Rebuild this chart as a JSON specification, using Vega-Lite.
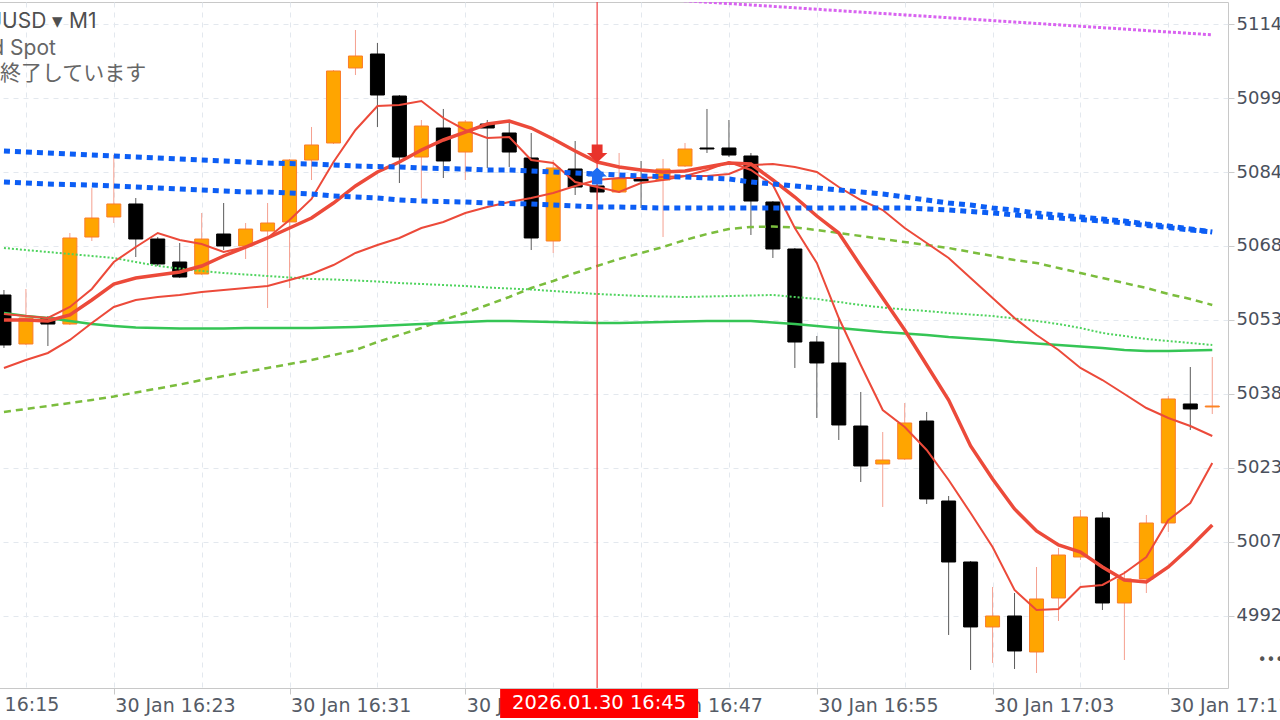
{
  "$schema": "https://vega.github.io/schema/vega-lite/v6.json",
  "width": 1230,
  "height": 686,
  "autosize": {"type": "none"},
  "padding": {"left": -2, "top": 2, "right": 52, "bottom": 32},
  "background": "white",
  "title": {
    "text": "XAUUSD ▾ M1",
    "subtitle": ["Gold Spot", "取引終了しています"],
    "anchor": "start", "frame": "group", "orient": "top", "baseline": "top",
    "offset": 0, "dx": -40, "dy": 83,
    "font": "Inter", "fontSize": 21, "fontWeight": 400, "color": "#4f4f4f",
    "subtitleFont": "Inter, Noto Sans CJK JP", "subtitleFontSize": 21, "subtitleColor": "#666666",
    "subtitlePadding": 6, "subtitleLineHeight": 25
  },
  "data": {"values": [
    {"t":"2026-01-30T16:18","o":5058.75,"h":5059.78,"l":5047.83,"c":5048.45,"f":5054.83,"m":5053.60,"s":5043.71,"bu":5088.43,"bl":5082.04,"g":5055.04,"gd":5068.44,"gk":5034.64},
    {"t":"2026-01-30T16:19","o":5048.65,"h":5059.99,"l":5048.45,"c":5054.01,"f":5054.42,"m":5053.60,"s":5045.35,"bu":5088.22,"bl":5081.83,"g":5054.42,"gd":5068.02,"gk":5035.26},
    {"t":"2026-01-30T16:20","o":5054.01,"h":5054.42,"l":5048.24,"c":5052.77,"f":5054.01,"m":5053.39,"s":5046.80,"bu":5088.02,"bl":5081.63,"g":5054.01,"gd":5067.61,"gk":5035.87},
    {"t":"2026-01-30T16:21","o":5052.77,"h":5071.53,"l":5052.57,"c":5070.50,"f":5056.28,"m":5054.63,"s":5049.48,"bu":5087.81,"bl":5081.52,"g":5053.39,"gd":5067.20,"gk":5036.49},
    {"t":"2026-01-30T16:22","o":5070.70,"h":5080.80,"l":5069.88,"c":5074.62,"f":5059.99,"m":5057.72,"s":5052.98,"bu":5087.60,"bl":5081.42,"g":5052.77,"gd":5066.79,"gk":5037.11},
    {"t":"2026-01-30T16:23","o":5074.83,"h":5087.60,"l":5073.59,"c":5077.51,"f":5065.55,"m":5061.02,"s":5056.28,"bu":5087.40,"bl":5081.22,"g":5052.36,"gd":5066.38,"gk":5037.83},
    {"t":"2026-01-30T16:24","o":5077.51,"h":5078.74,"l":5066.58,"c":5070.29,"f":5068.64,"m":5062.25,"s":5057.72,"bu":5087.19,"bl":5081.01,"g":5052.05,"gd":5065.55,"gk":5038.66},
    {"t":"2026-01-30T16:25","o":5070.29,"h":5070.70,"l":5064.73,"c":5065.14,"f":5071.53,"m":5062.87,"s":5058.34,"bu":5086.99,"bl":5080.80,"g":5051.95,"gd":5064.73,"gk":5039.48},
    {"t":"2026-01-30T16:26","o":5065.55,"h":5069.47,"l":5062.25,"c":5062.46,"f":5070.09,"m":5063.49,"s":5058.75,"bu":5086.78,"bl":5080.60,"g":5051.85,"gd":5064.21,"gk":5040.30},
    {"t":"2026-01-30T16:27","o":5063.08,"h":5075.65,"l":5062.87,"c":5070.29,"f":5069.26,"m":5064.73,"s":5059.37,"bu":5086.57,"bl":5080.39,"g":5051.85,"gd":5063.70,"gk":5041.23},
    {"t":"2026-01-30T16:28","o":5071.32,"h":5077.71,"l":5068.02,"c":5068.85,"f":5067.61,"m":5066.79,"s":5059.78,"bu":5086.37,"bl":5080.19,"g":5051.85,"gd":5063.28,"gk":5042.06},
    {"t":"2026-01-30T16:29","o":5068.85,"h":5073.59,"l":5066.17,"c":5072.35,"f":5068.64,"m":5068.64,"s":5060.19,"bu":5086.16,"bl":5079.98,"g":5051.95,"gd":5062.97,"gk":5042.88},
    {"t":"2026-01-30T16:30","o":5071.94,"h":5077.71,"l":5056.07,"c":5073.59,"f":5070.50,"m":5070.50,"s":5060.61,"bu":5085.96,"bl":5079.98,"g":5051.95,"gd":5062.67,"gk":5043.71},
    {"t":"2026-01-30T16:31","o":5073.80,"h":5086.78,"l":5060.19,"c":5086.57,"f":5074.21,"m":5072.56,"s":5061.84,"bu":5085.85,"bl":5079.77,"g":5051.95,"gd":5062.36,"gk":5044.53},
    {"t":"2026-01-30T16:32","o":5086.57,"h":5093.38,"l":5082.45,"c":5089.67,"f":5078.54,"m":5074.62,"s":5063.08,"bu":5085.75,"bl":5079.57,"g":5051.95,"gd":5062.05,"gk":5045.35},
    {"t":"2026-01-30T16:33","o":5090.08,"h":5105.12,"l":5089.87,"c":5104.92,"f":5086.16,"m":5077.71,"s":5064.93,"bu":5085.54,"bl":5079.15,"g":5052.05,"gd":5061.95,"gk":5046.38},
    {"t":"2026-01-30T16:34","o":5105.54,"h":5113.37,"l":5104.09,"c":5108.01,"f":5092.76,"m":5081.22,"s":5067.41,"bu":5085.34,"bl":5078.95,"g":5052.16,"gd":5061.74,"gk":5047.41},
    {"t":"2026-01-30T16:35","o":5108.42,"h":5110.69,"l":5093.38,"c":5099.97,"f":5097.70,"m":5084.10,"s":5069.06,"bu":5085.23,"bl":5078.74,"g":5052.36,"gd":5061.53,"gk":5049.06},
    {"t":"2026-01-30T16:36","o":5099.76,"h":5099.97,"l":5081.83,"c":5087.19,"f":5097.91,"m":5086.16,"s":5070.50,"bu":5085.13,"bl":5078.33,"g":5052.57,"gd":5061.22,"gk":5050.51},
    {"t":"2026-01-30T16:37","o":5087.19,"h":5094.82,"l":5078.74,"c":5093.58,"f":5098.73,"m":5088.63,"s":5072.56,"bu":5084.93,"bl":5078.12,"g":5052.77,"gd":5061.02,"gk":5051.95},
    {"t":"2026-01-30T16:38","o":5093.17,"h":5097.09,"l":5082.86,"c":5086.37,"f":5095.23,"m":5090.70,"s":5073.80,"bu":5084.82,"bl":5078.02,"g":5052.98,"gd":5060.81,"gk":5053.60},
    {"t":"2026-01-30T16:39","o":5088.22,"h":5094.82,"l":5082.45,"c":5094.41,"f":5092.76,"m":5092.34,"s":5075.65,"bu":5084.72,"bl":5077.92,"g":5053.19,"gd":5060.61,"gk":5055.04},
    {"t":"2026-01-30T16:40","o":5093.99,"h":5094.82,"l":5084.93,"c":5093.17,"f":5091.11,"m":5093.99,"s":5076.89,"bu":5084.51,"bl":5077.71,"g":5053.39,"gd":5060.30,"gk":5056.69},
    {"t":"2026-01-30T16:41","o":5092.14,"h":5094.20,"l":5085.13,"c":5088.22,"f":5091.31,"m":5094.61,"s":5077.92,"bu":5084.51,"bl":5077.61,"g":5053.39,"gd":5060.09,"gk":5058.34},
    {"t":"2026-01-30T16:42","o":5086.99,"h":5092.14,"l":5068.02,"c":5070.50,"f":5086.57,"m":5093.17,"s":5078.74,"bu":5084.31,"bl":5077.51,"g":5053.29,"gd":5059.88,"gk":5060.19},
    {"t":"2026-01-30T16:43","o":5069.88,"h":5086.57,"l":5067.41,"c":5084.93,"f":5085.96,"m":5090.90,"s":5079.77,"bu":5084.10,"bl":5077.30,"g":5053.19,"gd":5059.57,"gk":5061.64},
    {"t":"2026-01-30T16:44","o":5084.72,"h":5090.49,"l":5079.36,"c":5081.01,"f":5082.04,"m":5088.43,"s":5081.22,"bu":5083.89,"bl":5077.09,"g":5053.09,"gd":5059.26,"gk":5063.28},
    {"t":"2026-01-30T16:45","o":5081.22,"h":5084.10,"l":5078.33,"c":5079.98,"f":5081.01,"m":5086.16,"s":5082.45,"bu":5083.69,"bl":5076.89,"g":5052.98,"gd":5058.96,"gk":5064.73},
    {"t":"2026-01-30T16:46","o":5079.98,"h":5088.02,"l":5079.77,"c":5082.66,"f":5079.98,"m":5085.13,"s":5082.86,"bu":5083.48,"bl":5076.89,"g":5052.98,"gd":5058.75,"gk":5066.17,"mg":5120.28},
    {"t":"2026-01-30T16:47","o":5082.66,"h":5086.37,"l":5076.68,"c":5082.25,"f":5081.83,"m":5084.51,"s":5082.86,"bu":5083.28,"bl":5076.79,"g":5053.09,"gd":5058.54,"gk":5067.41,"mg":5119.99},
    {"t":"2026-01-30T16:48","o":5082.45,"h":5086.78,"l":5070.70,"c":5084.72,"f":5082.45,"m":5084.10,"s":5083.07,"bu":5083.17,"bl":5076.68,"g":5053.19,"gd":5058.44,"gk":5068.64,"mg":5119.70},
    {"t":"2026-01-30T16:49","o":5085.34,"h":5090.08,"l":5085.13,"c":5088.84,"f":5083.28,"m":5084.31,"s":5083.28,"bu":5083.07,"bl":5076.68,"g":5053.29,"gd":5058.34,"gk":5070.09,"mg":5119.40},
    {"t":"2026-01-30T16:50","o":5089.05,"h":5097.09,"l":5088.02,"c":5088.84,"f":5084.51,"m":5085.13,"s":5083.28,"bu":5082.86,"bl":5076.68,"g":5053.39,"gd":5058.44,"gk":5071.32,"mg":5119.11},
    {"t":"2026-01-30T16:51","o":5089.05,"h":5094.82,"l":5087.19,"c":5087.60,"f":5086.16,"m":5085.96,"s":5083.69,"bu":5082.66,"bl":5076.68,"g":5053.39,"gd":5058.54,"gk":5072.35,"mg":5118.82},
    {"t":"2026-01-30T16:52","o":5087.40,"h":5088.02,"l":5071.12,"c":5078.12,"f":5084.51,"m":5085.75,"s":5085.54,"bu":5082.04,"bl":5076.68,"g":5053.39,"gd":5058.65,"gk":5072.77,"mg":5118.53},
    {"t":"2026-01-30T16:53","o":5077.92,"h":5078.12,"l":5066.38,"c":5068.23,"f":5081.42,"m":5082.45,"s":5085.75,"bu":5081.63,"bl":5076.68,"g":5053.09,"gd":5058.75,"gk":5072.87,"mg":5118.24},
    {"t":"2026-01-30T16:54","o":5068.23,"h":5068.44,"l":5043.71,"c":5049.06,"f":5072.56,"m":5078.95,"s":5085.13,"bu":5081.22,"bl":5076.68,"g":5052.77,"gd":5058.34,"gk":5072.66,"mg":5117.94},
    {"t":"2026-01-30T16:55","o":5049.06,"h":5050.30,"l":5033.40,"c":5044.74,"f":5065.35,"m":5075.03,"s":5084.10,"bu":5080.80,"bl":5076.68,"g":5052.36,"gd":5057.93,"gk":5072.15,"mg":5117.65},
    {"t":"2026-01-30T16:56","o":5044.74,"h":5053.80,"l":5028.87,"c":5031.96,"f":5054.01,"m":5071.53,"s":5081.01,"bu":5080.39,"bl":5076.68,"g":5051.95,"gd":5057.31,"gk":5071.53,"mg":5117.35},
    {"t":"2026-01-30T16:57","o":5031.75,"h":5038.76,"l":5020.21,"c":5023.51,"f":5044.32,"m":5064.73,"s":5078.33,"bu":5079.98,"bl":5076.68,"g":5051.54,"gd":5056.69,"gk":5070.91,"mg":5117.06},
    {"t":"2026-01-30T16:58","o":5023.92,"h":5030.51,"l":5015.06,"c":5024.74,"f":5035.05,"m":5058.13,"s":5076.27,"bu":5079.57,"bl":5076.68,"g":5051.12,"gd":5056.17,"gk":5070.29,"mg":5116.77},
    {"t":"2026-01-30T16:59","o":5024.95,"h":5036.49,"l":5024.74,"c":5032.37,"f":5031.55,"m":5051.54,"s":5072.56,"bu":5078.95,"bl":5076.68,"g":5050.81,"gd":5055.76,"gk":5069.67,"mg":5116.48},
    {"t":"2026-01-30T17:00","o":5032.78,"h":5034.64,"l":5015.68,"c":5016.71,"f":5026.80,"m":5044.32,"s":5069.47,"bu":5078.33,"bl":5076.48,"g":5050.51,"gd":5055.45,"gk":5069.06,"mg":5116.19},
    {"t":"2026-01-30T17:01","o":5016.29,"h":5017.32,"l":4988.68,"c":5003.72,"f":5020.62,"m":5037.11,"s":5066.38,"bu":5077.71,"bl":5076.27,"g":5050.09,"gd":5055.04,"gk":5068.44,"mg":5115.90},
    {"t":"2026-01-30T17:02","o":5003.72,"h":5003.92,"l":4981.46,"c":4990.33,"f":5013.82,"m":5027.63,"s":5062.25,"bu":5077.30,"bl":5075.96,"g":5049.78,"gd":5054.73,"gk":5067.61,"mg":5115.61},
    {"t":"2026-01-30T17:03","o":4990.33,"h":4998.57,"l":4982.91,"c":4992.59,"f":5006.81,"m":5020.83,"s":5058.13,"bu":5076.68,"bl":5075.65,"g":5049.48,"gd":5054.42,"gk":5066.79,"mg":5115.30},
    {"t":"2026-01-30T17:04","o":4992.59,"h":4997.33,"l":4981.67,"c":4985.38,"f":4997.95,"m":5014.65,"s":5054.01,"bu":5076.27,"bl":5075.24,"g":5049.06,"gd":5053.91,"gk":5065.96,"mg":5115.01},
    {"t":"2026-01-30T17:05","o":4985.17,"h":5002.69,"l":4980.84,"c":4996.10,"f":4993.83,"m":5010.11,"s":5050.51,"bu":5075.65,"bl":5074.93,"g":5048.75,"gd":5053.39,"gk":5065.35,"mg":5114.72},
    {"t":"2026-01-30T17:06","o":4996.30,"h":5006.61,"l":4991.56,"c":5005.16,"f":4994.04,"m":5007.23,"s":5047.41,"bu":5075.24,"bl":5074.62,"g":5048.45,"gd":5052.77,"gk":5064.32,"mg":5114.43},
    {"t":"2026-01-30T17:07","o":5004.75,"h":5014.44,"l":5004.13,"c":5013.00,"f":4998.57,"m":5005.78,"s":5043.71,"bu":5074.83,"bl":5074.31,"g":5048.14,"gd":5051.95,"gk":5063.28,"mg":5114.14},
    {"t":"2026-01-30T17:08","o":5012.79,"h":5014.03,"l":4993.83,"c":4995.27,"f":4998.98,"m":5002.69,"s":5041.23,"bu":5074.41,"bl":5074.00,"g":5047.83,"gd":5050.92,"gk":5062.25,"mg":5113.85},
    {"t":"2026-01-30T17:09","o":4995.27,"h":5001.87,"l":4983.52,"c":5000.22,"f":5001.45,"m":5000.01,"s":5038.35,"bu":5074.00,"bl":5073.59,"g":5047.41,"gd":5050.30,"gk":5061.22,"mg":5113.56},
    {"t":"2026-01-30T17:10","o":5000.22,"h":5013.41,"l":4997.33,"c":5011.76,"f":5004.75,"m":4999.60,"s":5035.46,"bu":5073.38,"bl":5073.07,"g":5047.21,"gd":5049.68,"gk":5060.19,"mg":5113.25},
    {"t":"2026-01-30T17:11","o":5011.76,"h":5037.93,"l":5009.90,"c":5037.32,"f":5012.38,"m":5002.69,"s":5033.40,"bu":5072.97,"bl":5072.66,"g":5047.21,"gd":5049.27,"gk":5058.96,"mg":5112.96},
    {"t":"2026-01-30T17:12","o":5036.29,"h":5043.91,"l":5030.93,"c":5035.26,"f":5015.88,"m":5006.81,"s":5031.75,"bu":5072.35,"bl":5072.15,"g":5047.31,"gd":5048.86,"gk":5057.93,"mg":5112.67},
    {"t":"2026-01-30T17:13","o":5035.67,"h":5045.97,"l":5034.22,"c":5035.87,"f":5024.13,"m":5011.35,"s":5029.69,"bu":5071.73,"bl":5071.73,"g":5047.41,"gd":5048.45,"gk":5056.69,"mg":5112.38}
  ]},
  "encoding": {
    "x": {
      "field": "t", "type": "temporal", "title": null,
      "scale": {"domain": [
        {"year": 2026, "month": 1, "date": 30, "hours": 16, "minutes": 17, "seconds": 57, "milliseconds": 400},
        {"year": 2026, "month": 1, "date": 30, "hours": 17, "minutes": 13, "seconds": 29, "milliseconds": 300}
      ]},
      "axis": {
        "orient": "bottom",
        "values": [
          {"year": 2026, "month": 1, "date": 30, "hours": 16, "minutes": 19},
          {"year": 2026, "month": 1, "date": 30, "hours": 16, "minutes": 23},
          {"year": 2026, "month": 1, "date": 30, "hours": 16, "minutes": 27},
          {"year": 2026, "month": 1, "date": 30, "hours": 16, "minutes": 31},
          {"year": 2026, "month": 1, "date": 30, "hours": 16, "minutes": 35},
          {"year": 2026, "month": 1, "date": 30, "hours": 16, "minutes": 39},
          {"year": 2026, "month": 1, "date": 30, "hours": 16, "minutes": 43},
          {"year": 2026, "month": 1, "date": 30, "hours": 16, "minutes": 47},
          {"year": 2026, "month": 1, "date": 30, "hours": 16, "minutes": 51},
          {"year": 2026, "month": 1, "date": 30, "hours": 16, "minutes": 55},
          {"year": 2026, "month": 1, "date": 30, "hours": 16, "minutes": 59},
          {"year": 2026, "month": 1, "date": 30, "hours": 17, "minutes": 3},
          {"year": 2026, "month": 1, "date": 30, "hours": 17, "minutes": 7},
          {"year": 2026, "month": 1, "date": 30, "hours": 17, "minutes": 11}
        ],
        "labelExpr": "(hours(datum.value)*60+minutes(datum.value))%8==7 ? timeFormat(datum.value, '%d %b %H:%M') : ''",
        "grid": true, "gridColor": "#e3e8ee", "gridDash": [5, 5], "gridWidth": 1,
        "domain": false,
        "tickSize": 6,
        "tickColor": {"condition": {"test": "(hours(datum.value)*60+minutes(datum.value))%8==7", "value": "#c8c8c8"}, "value": "rgba(0,0,0,0)"},
        "labelAlign": "left", "labelOffset": 1, "labelPadding": 2, "labelBaseline": "top",
        "labelFont": "DejaVu Sans", "labelFontSize": 19, "labelColor": "#555b66",
        "labelOverlap": false, "labelBound": false, "labelFlush": false
      }
    }
  },
  "layer": [
    {
      "mark": {"type": "rule", "strokeWidth": 1},
      "encoding": {
        "y": {"field": "l", "type": "quantitative", "title": null,
          "scale": {"domain": [4977.75, 5119.14], "zero": false, "nice": false},
          "axis": {
            "orient": "right",
            "values": [4992.6, 5007.85, 5023.1, 5038.35, 5053.6, 5068.85, 5084.1, 5099.35, 5114.6],
            "format": ".2f", "domain": false,
            "grid": true, "gridColor": "#e3e8ee", "gridDash": [5, 5], "gridWidth": 1,
            "tickSize": 6, "tickColor": "#cccccc",
            "labelPadding": 2, "labelFont": "DejaVu Sans", "labelFontSize": 18, "labelColor": "#4a505c",
            "labelAlign": "left", "labelBaseline": "middle", "labelBound": false, "labelFlush": false, "labelOverlap": false
          }},
        "y2": {"field": "h"},
        "color": {"condition": {"test": "datum.c >= datum.o", "value": "#f5a090"}, "value": "#5a5a5a"}
      }
    },
    {
      "mark": {"type": "bar", "width": 14, "strokeWidth": 1},
      "encoding": {
        "y": {"field": "o", "type": "quantitative", "title": null, "scale": {"domain": [4977.75, 5119.14], "zero": false, "nice": false}},
        "y2": {"field": "c"},
        "fill": {"condition": {"test": "datum.c >= datum.o", "value": "#ffa500"}, "value": "#000000"},
        "stroke": {"condition": {"test": "datum.c >= datum.o", "value": "#fb7d2a"}, "value": "#000000"}
      }
    },
    {
      "mark": {"type": "line", "clip": true, "strokeCap": "butt", "color": "#7bbd3d", "strokeWidth": 2.5, "strokeDash": [7, 5]},
      "encoding": {"y": {"field": "gk", "type": "quantitative", "title": null, "scale": {"domain": [4977.75, 5119.14], "zero": false, "nice": false}}}
    },
    {
      "mark": {"type": "line", "clip": true, "strokeCap": "butt", "color": "#4fd35e", "strokeWidth": 2, "strokeDash": [2, 2]},
      "encoding": {"y": {"field": "gd", "type": "quantitative", "title": null, "scale": {"domain": [4977.75, 5119.14], "zero": false, "nice": false}}}
    },
    {
      "mark": {"type": "line", "clip": true, "color": "#35c555", "strokeWidth": 2.5},
      "encoding": {"y": {"field": "g", "type": "quantitative", "title": null, "scale": {"domain": [4977.75, 5119.14], "zero": false, "nice": false}}}
    },
    {
      "mark": {"type": "line", "clip": true, "color": "#ec4a3a", "strokeWidth": 2},
      "encoding": {"y": {"field": "s", "type": "quantitative", "title": null, "scale": {"domain": [4977.75, 5119.14], "zero": false, "nice": false}}}
    },
    {
      "mark": {"type": "line", "clip": true, "color": "#ec4a3a", "strokeWidth": 3.5},
      "encoding": {"y": {"field": "m", "type": "quantitative", "title": null, "scale": {"domain": [4977.75, 5119.14], "zero": false, "nice": false}}}
    },
    {
      "mark": {"type": "line", "clip": true, "color": "#ec4a3a", "strokeWidth": 2},
      "encoding": {"y": {"field": "f", "type": "quantitative", "title": null, "scale": {"domain": [4977.75, 5119.14], "zero": false, "nice": false}}}
    },
    {
      "mark": {"type": "line", "clip": true, "strokeCap": "butt", "color": "#0c5ef5", "strokeWidth": 5, "strokeDash": [6, 5]},
      "encoding": {"y": {"field": "bl", "type": "quantitative", "title": null, "scale": {"domain": [4977.75, 5119.14], "zero": false, "nice": false}}}
    },
    {
      "mark": {"type": "line", "clip": true, "strokeCap": "butt", "color": "#0c5ef5", "strokeWidth": 5, "strokeDash": [6, 5]},
      "encoding": {"y": {"field": "bu", "type": "quantitative", "title": null, "scale": {"domain": [4977.75, 5119.14], "zero": false, "nice": false}}}
    },
    {
      "mark": {"type": "line", "clip": true, "strokeCap": "butt", "color": "#d862f0", "strokeWidth": 3, "strokeDash": [3, 2]},
      "encoding": {"y": {"field": "mg", "type": "quantitative", "title": null, "scale": {"domain": [4977.75, 5119.14], "zero": false, "nice": false}}}
    },
    {
      "data": {"values": [{"t": "2026-01-30T16:45"}]},
      "mark": {"type": "rule", "color": "#f04040", "strokeWidth": 1.2},
      "encoding": {}
    },
    {
      "data": {"values": [{"t": "2026-01-30T16:45", "p": 5087.91, "signal": "sell"}]},
      "mark": {"type": "point", "filled": true, "opacity": 1, "size": 420, "color": "#e8332b",
        "shape": "M -0.53 -0.88 L 0.53 -0.88 L 0.53 -0.06 L 1 -0.06 L 0 0.88 L -1 -0.06 L -0.53 -0.06 Z"},
      "encoding": {
        "y": {"field": "p", "type": "quantitative", "title": null, "scale": {"domain": [4977.75, 5119.14], "zero": false, "nice": false}}
      }
    },
    {
      "data": {"values": [{"t": "2026-01-30T16:45", "p": 5083.28, "signal": "buy"}]},
      "mark": {"type": "point", "filled": true, "opacity": 1, "size": 380, "color": "#1e6cf2",
        "shape": "M 0 -0.88 L 1 0.06 L 0.53 0.06 L 0.53 0.88 L -0.53 0.88 L -0.53 0.06 L -1 0.06 Z"},
      "encoding": {
        "y": {"field": "p", "type": "quantitative", "title": null, "scale": {"domain": [4977.75, 5119.14], "zero": false, "nice": false}}
      }
    },
    {
      "data": {"values": [{"t": "2026-01-30T16:15", "label": "30 Jan 16:15"}]},
      "mark": {"type": "text", "color": "#555b66", "font": "DejaVu Sans", "fontSize": 19, "align": "left", "baseline": "top", "dx": 1},
      "encoding": {
        "y": {"datum": 4976.11, "type": "quantitative", "title": null},
        "text": {"field": "label"}
      }
    },
    {
      "data": {"values": [{"t": "2026-01-30T16:45", "label": "2026.01.30 16:45"}]},
      "mark": {"type": "bar", "color": "#ff0000", "width": 198, "xOffset": 2},
      "encoding": {
        "y": {"datum": 4977.55, "type": "quantitative", "title": null},
        "y2": {"datum": 4971.57}
      }
    },
    {
      "data": {"values": [{"t": "2026-01-30T16:45", "label": "2026.01.30 16:45"}]},
      "mark": {"type": "text", "color": "#ffffff", "font": "DejaVu Sans", "fontSize": 19.5, "align": "center", "baseline": "middle", "dx": 2},
      "encoding": {
        "y": {"datum": 4974.56, "type": "quantitative", "title": null},
        "text": {"field": "label"}
      }
    },
    {
      "data": {"values": [{"t": "2026-01-30T17:15:04", "p": 4983.52, "label": "•••"}]},
      "mark": {"type": "text", "color": "#555555", "font": "DejaVu Sans", "fontSize": 15, "align": "left", "baseline": "middle"},
      "encoding": {
        "y": {"field": "p", "type": "quantitative", "title": null},
        "text": {"field": "label"}
      }
    }
  ],
  "config": {
    "view": {"stroke": "#c8c8c8", "strokeWidth": 1},
    "axis": {"domain": false}
  }
}
